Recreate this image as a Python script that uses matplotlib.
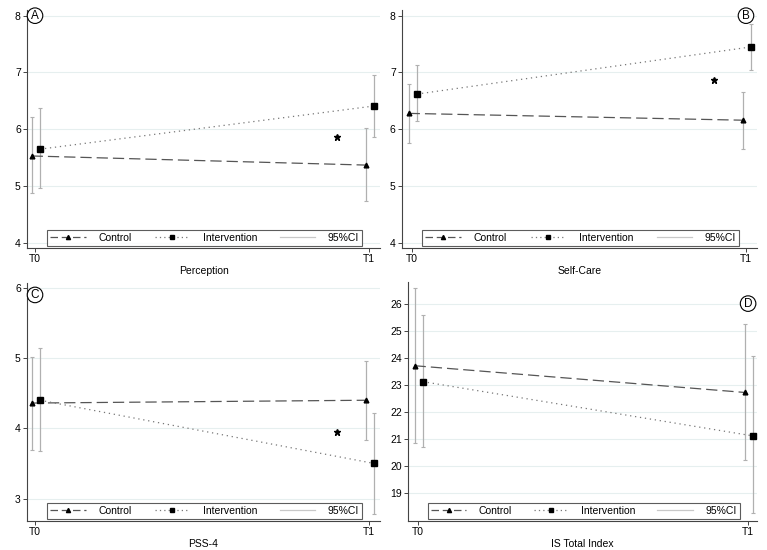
import matplotlib
matplotlib.use('Agg')
import matplotlib.pyplot as plt
from matplotlib.lines import Line2D

# time points and per-panel values (mean, CI low, CI high)
times = ['T0', 'T1']
titles = ['Perception', 'Self-Care', 'PSS-4', 'IS Total Index']
letters = ['A', 'B', 'C', 'D']

ctrl_mean = [[5.53, 5.37], [6.28, 6.16], [4.36, 4.40], [23.70, 22.71]]
ctrl_lo = [[4.87, 4.74], [5.75, 5.65], [3.69, 3.83], [20.82, 20.20]]
ctrl_hi = [[6.22, 6.02], [6.79, 6.66], [5.02, 4.96], [26.58, 25.24]]

int_mean = [[5.65, 6.41], [6.62, 7.45], [4.40, 3.50], [23.11, 21.10]]
int_lo = [[4.96, 5.87], [6.14, 7.04], [3.67, 2.78], [20.70, 18.24]]
int_hi = [[6.37, 6.95], [7.13, 7.85], [5.15, 4.22], [25.56, 24.05]]

star_y = [5.86, 6.86, 3.95, None]
yticks = [[4, 5, 6, 7, 8], [4, 5, 6, 7, 8], [3, 4, 5, 6],
          [19, 20, 21, 22, 23, 24, 25, 26]]
ylims = [(3.91, 8.1), (3.91, 8.1), (2.68, 6.07), (17.95, 26.8)]
xlims = [(-0.024, 1.033), (-0.030, 1.033), (-0.024, 1.033), (-0.030, 1.027)]
# axes boxes in pixels: left, top, right, bottom
boxes = [(27, 10, 380, 248), (402, 10, 757, 248),
         (27, 283, 380, 521), (408, 282, 757, 521)]
letter_pos = [(0.0, 8.0), (1.0, 8.0), (0.0, 5.9), (1.0, 26.0)]

W, H = 767, 550
fig = plt.figure(figsize=(W / 100, H / 100), dpi=100)
plt.rcParams['font.family'] = 'Liberation Sans'

ci_col = '#b0b0b0'
x = [0, 1]
off_c, off_i = -0.01, 0.015

for k in range(4):
    l, t, r, b = boxes[k]
    ax = fig.add_axes([l / W, 1 - b / H, (r - l) / W, (b - t) / H])
    xc = [v + off_c for v in x]
    xi = [v + off_i for v in x]
    for j in range(2):
        ax.errorbar(xc[j], ctrl_mean[k][j],
                    yerr=[[ctrl_mean[k][j] - ctrl_lo[k][j]], [ctrl_hi[k][j] - ctrl_mean[k][j]]],
                    fmt='none', ecolor=ci_col, elinewidth=0.9, capsize=1.5, capthick=0.8, zorder=2)
        ax.errorbar(xi[j], int_mean[k][j],
                    yerr=[[int_mean[k][j] - int_lo[k][j]], [int_hi[k][j] - int_mean[k][j]]],
                    fmt='none', ecolor=ci_col, elinewidth=0.9, capsize=1.5, capthick=0.8, zorder=2)
    ax.plot(xc, ctrl_mean[k], color='#555555', lw=0.9, ls=(0, (9, 4)), zorder=3)
    ax.plot(xc, ctrl_mean[k], ls='none', marker='^', ms=3.4, color='black', zorder=4)
    ax.plot(xi, int_mean[k], color='#777777', lw=0.9, ls=(0, (1, 3)), zorder=3)
    ax.plot(xi, int_mean[k], ls='none', marker='s', ms=4, color='black', zorder=4)

    if star_y[k] is not None:
        ax.plot([0.904], [star_y[k]], marker='*', ms=4.8, color='black', ls='none', zorder=4)

    ax.text(letter_pos[k][0], letter_pos[k][1], letters[k], fontsize=8.5, ha='center', va='center',
            bbox=dict(boxstyle='circle,pad=0.15', fc='white', ec='black', lw=0.8), zorder=5)

    ax.set_xlim(*xlims[k])
    ax.set_ylim(*ylims[k])
    ax.set_xticks(x)
    ax.set_xticklabels(times, fontsize=7.5)
    ax.set_yticks(yticks[k])
    ax.set_yticklabels([str(v) for v in yticks[k]], fontsize=7.5)
    ax.set_xlabel(titles[k], fontsize=7.5, labelpad=1)
    ax.yaxis.grid(True, color='#e6efef', lw=0.8)
    ax.set_axisbelow(True)
    for s in ['top', 'right']:
        ax.spines[s].set_visible(False)
    for s in ['left', 'bottom']:
        ax.spines[s].set_color('#444444')
        ax.spines[s].set_linewidth(0.8)
    ax.tick_params(length=3, width=0.7, color='#444444', pad=1.5)

    handles = [
        Line2D([0, 0.5, 1], [0, 0, 0], color='#555555', lw=0.9, ls=(0, (6, 3)), marker='^', ms=3,
               mfc='black', mec='black', markevery=[1]),
        Line2D([0, 0.5, 1], [0, 0, 0], color='#777777', lw=0.9, ls=(0, (1, 2.5)), marker='s', ms=3.5,
               mfc='black', mec='black', markevery=[1]),
        Line2D([], [], color='#c8c8c8', lw=0.9),
    ]
    leg = ax.legend(handles, ['Control', 'Intervention', '95%CI'], ncol=3,
                    loc='lower left', bbox_to_anchor=(0.057, 0.008, 0.893, 0.08),
                    mode='expand', fontsize=7.5, frameon=True, fancybox=False,
                    handlelength=3.4, borderpad=0.3, handletextpad=1.2,
                    borderaxespad=0)
    leg.get_frame().set_edgecolor('#333333')
    leg.get_frame().set_linewidth(0.8)

fig.savefig('out.png', dpi=100, facecolor='white')
